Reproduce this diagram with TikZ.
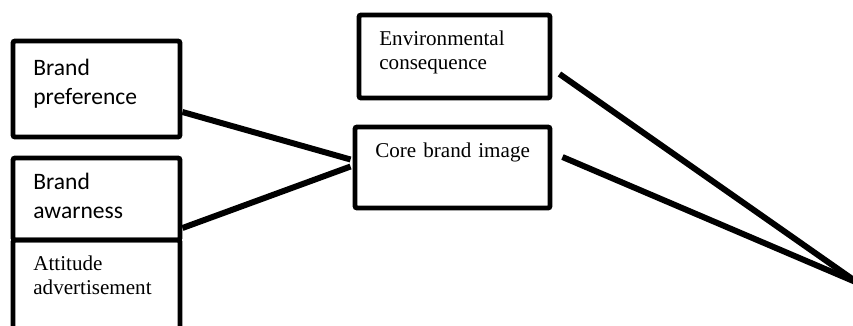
\documentclass[tikz,border=0pt]{standalone}
\usepackage{fontspec}
\setmainfont{Liberation Serif}
\newfontfamily\calibri{Carlito}
\usetikzlibrary{positioning}

\tikzset{
  box/.style={rectangle,draw,line width=2.8pt,rounded corners=1.2pt,inner sep=0pt},
  sanslabel/.style={anchor=base west,inner sep=0pt,text width=4cm,align=left,
    font=\calibri\fontsize{13.4}{16.6}\selectfont},
  seriflabel/.style={anchor=base west,inner sep=0pt,text width=4cm,align=left,
    font=\fontsize{12}{14.2}\selectfont},
  link/.style={line width=3.4pt}
}

\begin{document}
\begin{tikzpicture}[x=0.02cm,y=-0.02cm]
  \useasboundingbox (0,0) rectangle (853,325);
  \clip (0,0) rectangle (853,325);

  % boxes on the left
  \node[box,minimum width=167*0.02cm,minimum height=96*0.02cm] (pref) at (96.5,89) {};
  \node[box,minimum width=167*0.02cm,minimum height=82*0.02cm] (aware) at (96.5,199) {};
  \node[box,minimum width=167*0.02cm,minimum height=100*0.02cm] (att) at (96.5,290) {};

  % boxes in the middle
  \node[box,minimum width=191*0.02cm,minimum height=83*0.02cm] (env) at (454.5,56.5) {};
  \node[box,minimum width=195*0.02cm,minimum height=81*0.02cm] (core) at (452.5,167.5) {};

  % texts
  \node[sanslabel] (pref-t) at (33,75) {Brand\\preference};
  \node[sanslabel] (aware-t) at (33,189) {Brand\\awarness};
  \node[seriflabel] (att-t) at (33,270) {Attitude\\advertisement};
  \node[seriflabel] (env-t) at (379,45) {Environmental\\consequence};
  \node[seriflabel] (core-t) at (375,157) {Core brand image};

  % connectors
  \coordinate (tip) at (858,283);
  \draw[link] ([shift={(0,23)}]pref.east) -- ([shift={(-2,-8)}]core.west);
  \draw[link] ([shift={(0,29)}]aware.east) -- ([shift={(-2,-1)}]core.west);
  \draw[link] ([shift={(7,17.5)}]env.east) -- (tip);
  \draw[link] ([shift={(10,-10.5)}]core.east) -- (tip);
\end{tikzpicture}
\end{document}
